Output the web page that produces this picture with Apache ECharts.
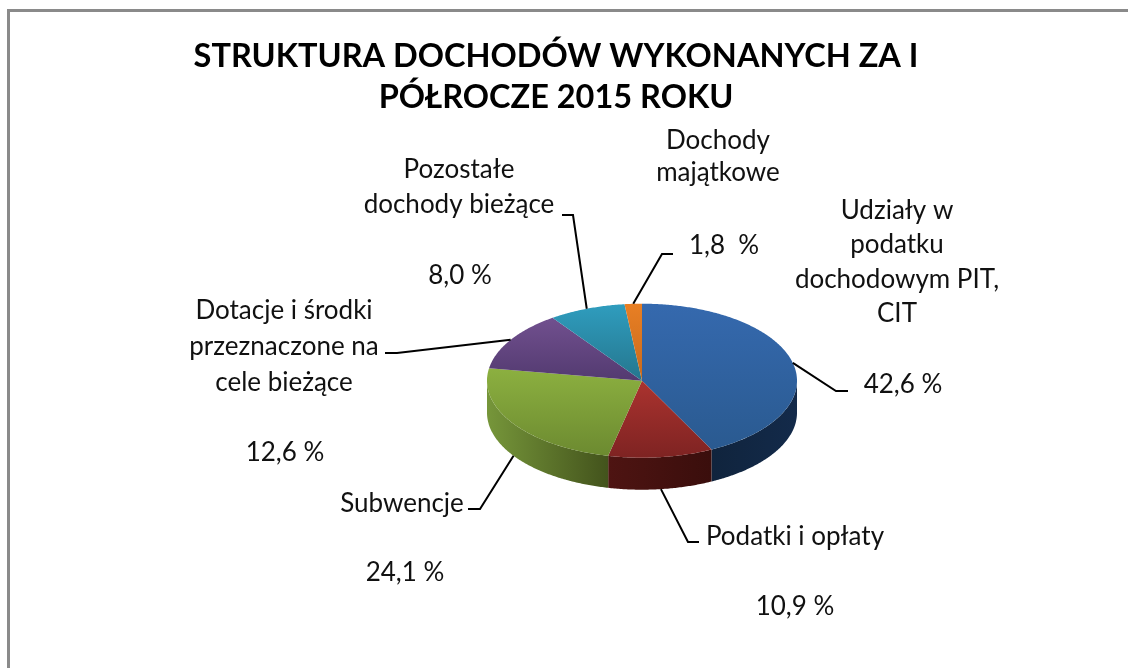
<!DOCTYPE html>
<html><head><meta charset="utf-8">
<style>html,body{margin:0;padding:0;background:#fff}#c{width:1128px;height:668px}</style>
<script src="https://cdn.jsdelivr.net/npm/echarts@6/dist/echarts.min.js"></script>
</head><body><div id="c"></div>
<script>
const titleText = 'STRUKTURA DOCHODÓW WYKONANYCH ZA I\nPÓŁROCZE 2015 ROKU';
const categories = ['Udziały w\npodatku\ndochodowym PIT,\nCIT','Podatki i opłaty','Subwencje','Dotacje i środki\nprzeznaczone na\ncele bieżące','Pozostałe\ndochody bieżące','Dochody\nmajątkowe'];
const values = [42.6,10.9,24.1,12.6,8.0,1.8];
const percentLabels = ['42,6 %','10,9 %','24,1 %','12,6 %','8,0 %','1,8  %'];
const topColors = [['#3569ae','#2a5a90'],['#ab332f','#7e2322'],['#8cb040','#6c8a30'],['#71508f','#533a70'],['#2f9dbe','#25768e'],['#e87f24','#c96a1c']];
const wallColors = [['#132a4a','#10243d'],['#3a0e0c','#4e1412'],['#43531c','#76963a'],['#000','#000'],['#000','#000'],['#000','#000']];

// layout of the drawing (pixels)
const CX=642, CY=380.7, RX=155, RY=77, DEPTH=32;
const FONT='Lato, sans-serif', FS=26;
const nameAt=[[897,262],[795,536.5],[402,503.5],[284,347],[459,187],[718,157]];
const pctAt=[[903,385],[795,607],[405,573],[285,453],[460,276],[724,246]];
const lineH=[34.5,30,30,36,35,32];
const leaderMid=[[836,391],[688,542],[480,509],[397,353],[573,215],[662,254]];
const leaderEnd=[[848,391],[699,542],[468,509],[385,353],[562,215],[673,254]];
const total=values.reduce((a,b)=>a+b,0);
let cumulative=[0]; values.forEach(v=>cumulative.push(cumulative[cumulative.length-1]+v));

function pt(a,dy){return [CX+RX*Math.sin(a),CY-RY*Math.cos(a)+(dy||0)];}
function arcPts(a0,a1,dy){const n=Math.max(2,Math.ceil((a1-a0)/0.01));const p=[];for(let i=0;i<=n;i++)p.push(pt(a0+(a1-a0)*i/n,dy));return p;}

function renderSlice(params,api){
  const i=params.dataIndex, v=api.value(0);
  const a0=cumulative[i]/total*2*Math.PI, a1=a0+v/total*2*Math.PI, mid=(a0+a1)/2;
  const kids=[];
  const w0=Math.max(a0,Math.PI/2), w1=Math.min(a1,Math.PI*1.5);
  if(w1>w0){
    const up=arcPts(w0,w1,0), low=arcPts(w0,w1,DEPTH).reverse();
    kids.push({type:'polygon',shape:{points:up.concat(low)},style:{fill:{type:'linear',global:true,x:up[0][0],y:0,x2:up[up.length-1][0],y2:0,colorStops:[{offset:0,color:wallColors[i][0]},{offset:1,color:wallColors[i][1]}]}}});
  }
  kids.push({type:'polygon',shape:{points:[[CX,CY]].concat(arcPts(a0,a1,0))},style:{fill:{type:'linear',x:0,y:0,x2:0,y2:1,colorStops:[{offset:0,color:topColors[i][0]},{offset:1,color:topColors[i][1]}]}}});
  const front=mid>Math.PI/2+0.3&&mid<Math.PI*1.5;
  kids.push({type:'polyline',shape:{points:[pt(mid,front?DEPTH:0),leaderMid[i],leaderEnd[i]]},style:{stroke:'#000',lineWidth:2,fill:null},z2:5});
  kids.push({type:'text',style:{x:nameAt[i][0],y:nameAt[i][1],text:categories[i],align:'center',verticalAlign:'middle',font:FS+'px '+FONT,lineHeight:lineH[i],fill:'#111'},z2:6});
  kids.push({type:'text',style:{x:pctAt[i][0],y:pctAt[i][1],text:percentLabels[i],align:'center',verticalAlign:'middle',font:FS+'px '+FONT,fill:'#111'},z2:6});
  return {type:'group',children:kids};
}

const chart=echarts.init(document.getElementById('c'),null,{renderer:'canvas'});
chart.setOption({
  animation:false,
  backgroundColor:'#fff',
  title:{text:titleText,left:551,top:31,textAlign:'center',textStyle:{fontFamily:FONT,fontSize:32.5,fontWeight:'bold',color:'#000',lineHeight:41}},
  graphic:[{type:'polyline',shape:{points:[[8.5,668],[8.5,10.5],[1128,10.5]]},style:{stroke:'#8a8a8a',lineWidth:3,fill:null}}],
  series:[{type:'custom',coordinateSystem:'none',silent:true,clip:false,data:values.map(v=>[v]),renderItem:renderSlice}]
});
</script></body></html>
